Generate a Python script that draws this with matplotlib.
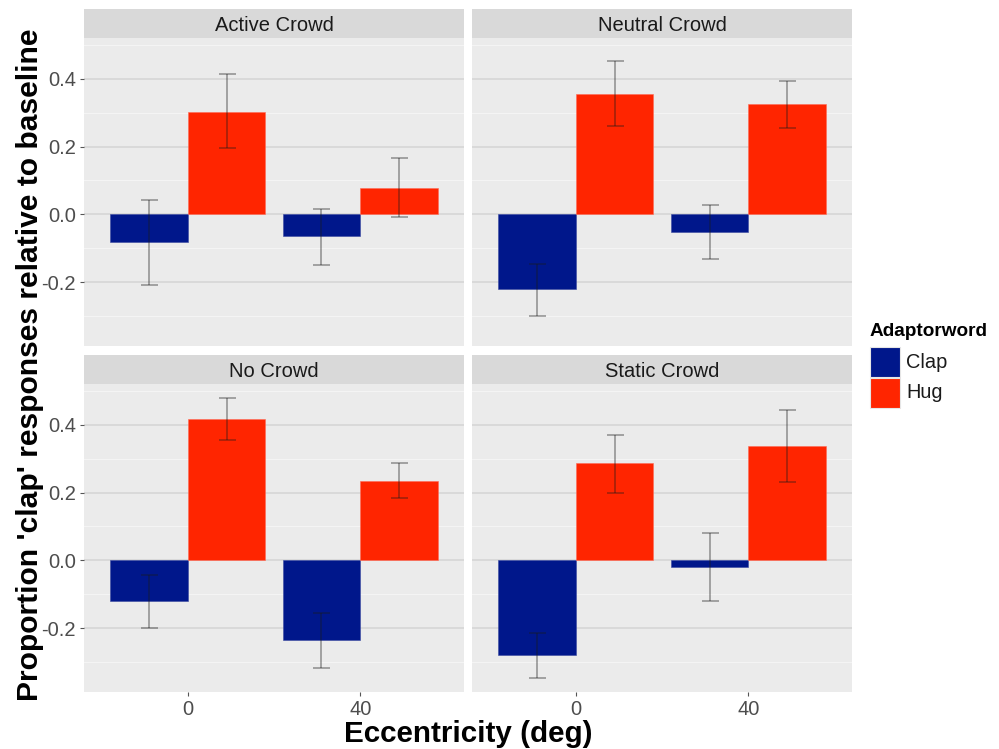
import matplotlib
matplotlib.use("Agg")
import matplotlib.pyplot as plt
import numpy as np
from matplotlib.patches import Rectangle

plt.rcParams['font.family'] = ['Liberation Sans', 'DejaVu Sans']

# ---------------- data ----------------
facets = ["Active Crowd", "Neutral Crowd", "No Crowd", "Static Crowd"]
eccentricity = ["0", "40"]
series = ["Clap", "Hug"]

clap_mean = [[-0.080, -0.065], [-0.221, -0.053], [-0.120, -0.236], [-0.280, -0.019]]
clap_lo   = [[-0.209, -0.150], [-0.300, -0.132], [-0.199, -0.318], [-0.347, -0.120]]
clap_hi   = [[ 0.041,  0.015], [-0.147,  0.027], [-0.042, -0.154], [-0.214,  0.080]]

hug_mean  = [[ 0.303,  0.079], [ 0.356,  0.324], [ 0.418,  0.233], [ 0.286,  0.337]]
hug_lo    = [[ 0.197, -0.009], [ 0.260,  0.254], [ 0.354,  0.184], [ 0.199,  0.232]]
hug_hi    = [[ 0.415,  0.165], [ 0.453,  0.394], [ 0.479,  0.286], [ 0.371,  0.442]]

y_ticks = [-0.2, 0.0, 0.2, 0.4]
y_tick_labels = ["-0.2", "0.0", "0.2", "0.4"]
y_minor = [-0.3, -0.1, 0.1, 0.3, 0.5]

# ---------------- style ----------------
CLAP = "#00178B"
HUG = "#FF2500"
colors = [CLAP, HUG]
W, H = 999, 749
PX = 72 / 100.0  # points per pixel

fig = plt.figure(figsize=(W / 100, H / 100), dpi=100)


def rect(x0, x1, y0, y1):
    return [x0 / W, 1 - y1 / H, (x1 - x0) / W, (y1 - y0) / H]


panels = [(84, 464, 38, 346), (472, 852, 38, 346),
          (84, 464, 384, 692), (472, 852, 384, 692)]
strip_h = 29
ERR = (0.1, 0.1, 0.1, 0.38)

for i, facet in enumerate(facets):
    x0, x1, y0, y1 = panels[i]
    ax = fig.add_axes(rect(x0, x1, y0, y1))
    ax.set_facecolor("#EBEBEB")
    pos = np.arange(len(eccentricity)) + 1
    cm = np.array(clap_mean[i]); hm = np.array(hug_mean[i])
    ax.bar(pos - 0.225, cm, width=0.45, color=CLAP, edgecolor="#3a4aa0",
           linewidth=0.4, zorder=2)
    ax.bar(pos + 0.225, hm, width=0.45, color=HUG, edgecolor="#ff6a55",
           linewidth=0.4, zorder=2)
    ax.errorbar(pos - 0.225, cm,
                yerr=[cm - np.array(clap_lo[i]), np.array(clap_hi[i]) - cm],
                fmt="none", ecolor=ERR, elinewidth=1.3,
                capsize=8.5 * PX, capthick=1.3, zorder=3)
    ax.errorbar(pos + 0.225, hm,
                yerr=[hm - np.array(hug_lo[i]), np.array(hug_hi[i]) - hm],
                fmt="none", ecolor=ERR, elinewidth=1.3,
                capsize=8.5 * PX, capthick=1.3, zorder=3)
    ax.set_xlim(0.4, 2.6)
    ax.set_ylim(-0.388, 0.520)
    ax.set_yticks(y_ticks)
    ax.set_yticks(y_minor, minor=True)
    ax.set_xticks(pos)
    ax.set_axisbelow(True)
    ax.grid(which="major", axis="y", color="#D4D4D4", linewidth=1.1)
    ax.grid(which="minor", axis="y", color="#F4F4F4", linewidth=0.8)
    for s in ax.spines.values():
        s.set_visible(False)
    ax.tick_params(which="minor", length=0)
    ax.tick_params(which="major", length=4 * PX, width=0.8, color="#555555",
                   labelsize=14.5, labelcolor="#4D4D4D", pad=3)
    left = i % 2 == 0
    bottom = i >= 2
    if left:
        ax.set_yticklabels(y_tick_labels)
    else:
        ax.tick_params(axis="y", left=False, labelleft=False)
    if bottom:
        ax.set_xticklabels(eccentricity)
    else:
        ax.tick_params(axis="x", bottom=False, labelbottom=False)

    sax = fig.add_axes(rect(x0, x1, y0 - strip_h, y0))
    sax.set_facecolor("#D9D9D9")
    sax.set_xticks([]); sax.set_yticks([])
    for s in sax.spines.values():
        s.set_visible(False)
    sax.text(0.5, 0.44, facet, ha="center", va="center", fontsize=14.5,
             color="#1A1A1A", transform=sax.transAxes)

fig.text(30 / W, 1 - 365 / H, "Proportion 'clap' responses relative to baseline",
         rotation=90, ha="center", va="center", fontsize=21.6, fontweight="bold")
fig.text(468 / W, 1 - 734 / H, "Eccentricity (deg)", ha="center", va="center",
         fontsize=21.3, fontweight="bold")

# legend
fig.text(870 / W, 1 - 332 / H, "Adaptorword", ha="left", va="center",
         fontsize=13.7, fontweight="bold")
key_tops = [347, 378]
for k, (name, col) in enumerate(zip(series, colors)):
    t = key_tops[k]
    fig.add_artist(Rectangle((870 / W, 1 - (t + 30) / H), 30 / W, 30 / H,
                             transform=fig.transFigure, facecolor=col,
                             edgecolor="#e6e6e6", linewidth=0.8))
    fig.text(906 / W, 1 - (t + 15) / H, name, ha="left", va="center",
             fontsize=14.4, color="#1A1A1A")

fig.savefig("out.png", dpi=100)
